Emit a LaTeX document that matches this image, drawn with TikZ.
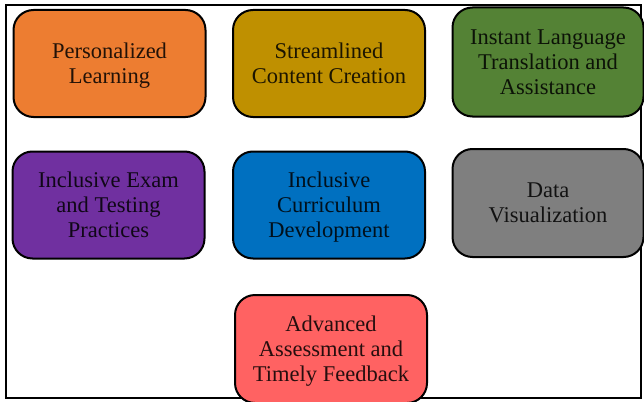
\documentclass[tikz,border=0pt]{standalone}
\usepackage{fontspec}
\setmainfont{Liberation Serif}

\definecolor{naranja}{HTML}{ED7D31}
\definecolor{dorado}{HTML}{BF9000}
\definecolor{verde}{HTML}{548235}
\definecolor{morado}{HTML}{7030A0}
\definecolor{azul}{HTML}{0070C0}
\definecolor{gris}{HTML}{7F7F7F}
\definecolor{rojo}{HTML}{FF6262}

\begin{document}
\begin{tikzpicture}[x=1pt, y=-1pt,
    caja/.style={draw=black, line width=2pt, rounded corners=20pt,
        minimum width=192pt, minimum height=107pt, align=center,
        text=black, text opacity=0.85, text depth=0pt,
        font=\fontsize{22.5}{25}\selectfont}]

    \useasboundingbox (0,0) rectangle (644,401);
    \draw[line width=2pt] (6,5.5) rectangle (641,398); %marco

    %fila de arriba
    \node[caja, fill=naranja] (personal) at (109.5,63.5) {Personalized\\Learning};
    \node[caja, fill=dorado] (contenido) at (329,63.5) {Streamlined\\Content Creation};
    \node[caja, fill=verde, minimum width=191pt, minimum height=109pt] (idioma) at (548,62)
    {Instant Language\\Translation and\\Assistance};

    %fila del medio
    \node[caja, fill=morado] (examen) at (108.5,205) {Inclusive Exam\\and Testing\\Practices};
    \node[caja, fill=azul] (curriculo) at (329,205) {Inclusive\\Curriculum\\Development};
    \node[caja, fill=gris, minimum width=191pt, minimum height=108pt] (datos) at (548,203)
    {Data\\Visualization};

    %abajo
    \node[caja, fill=rojo, minimum height=108pt] (evaluacion) at (331,349)
    {Advanced\\Assessment and\\Timely Feedback};

\end{tikzpicture}
\end{document}
